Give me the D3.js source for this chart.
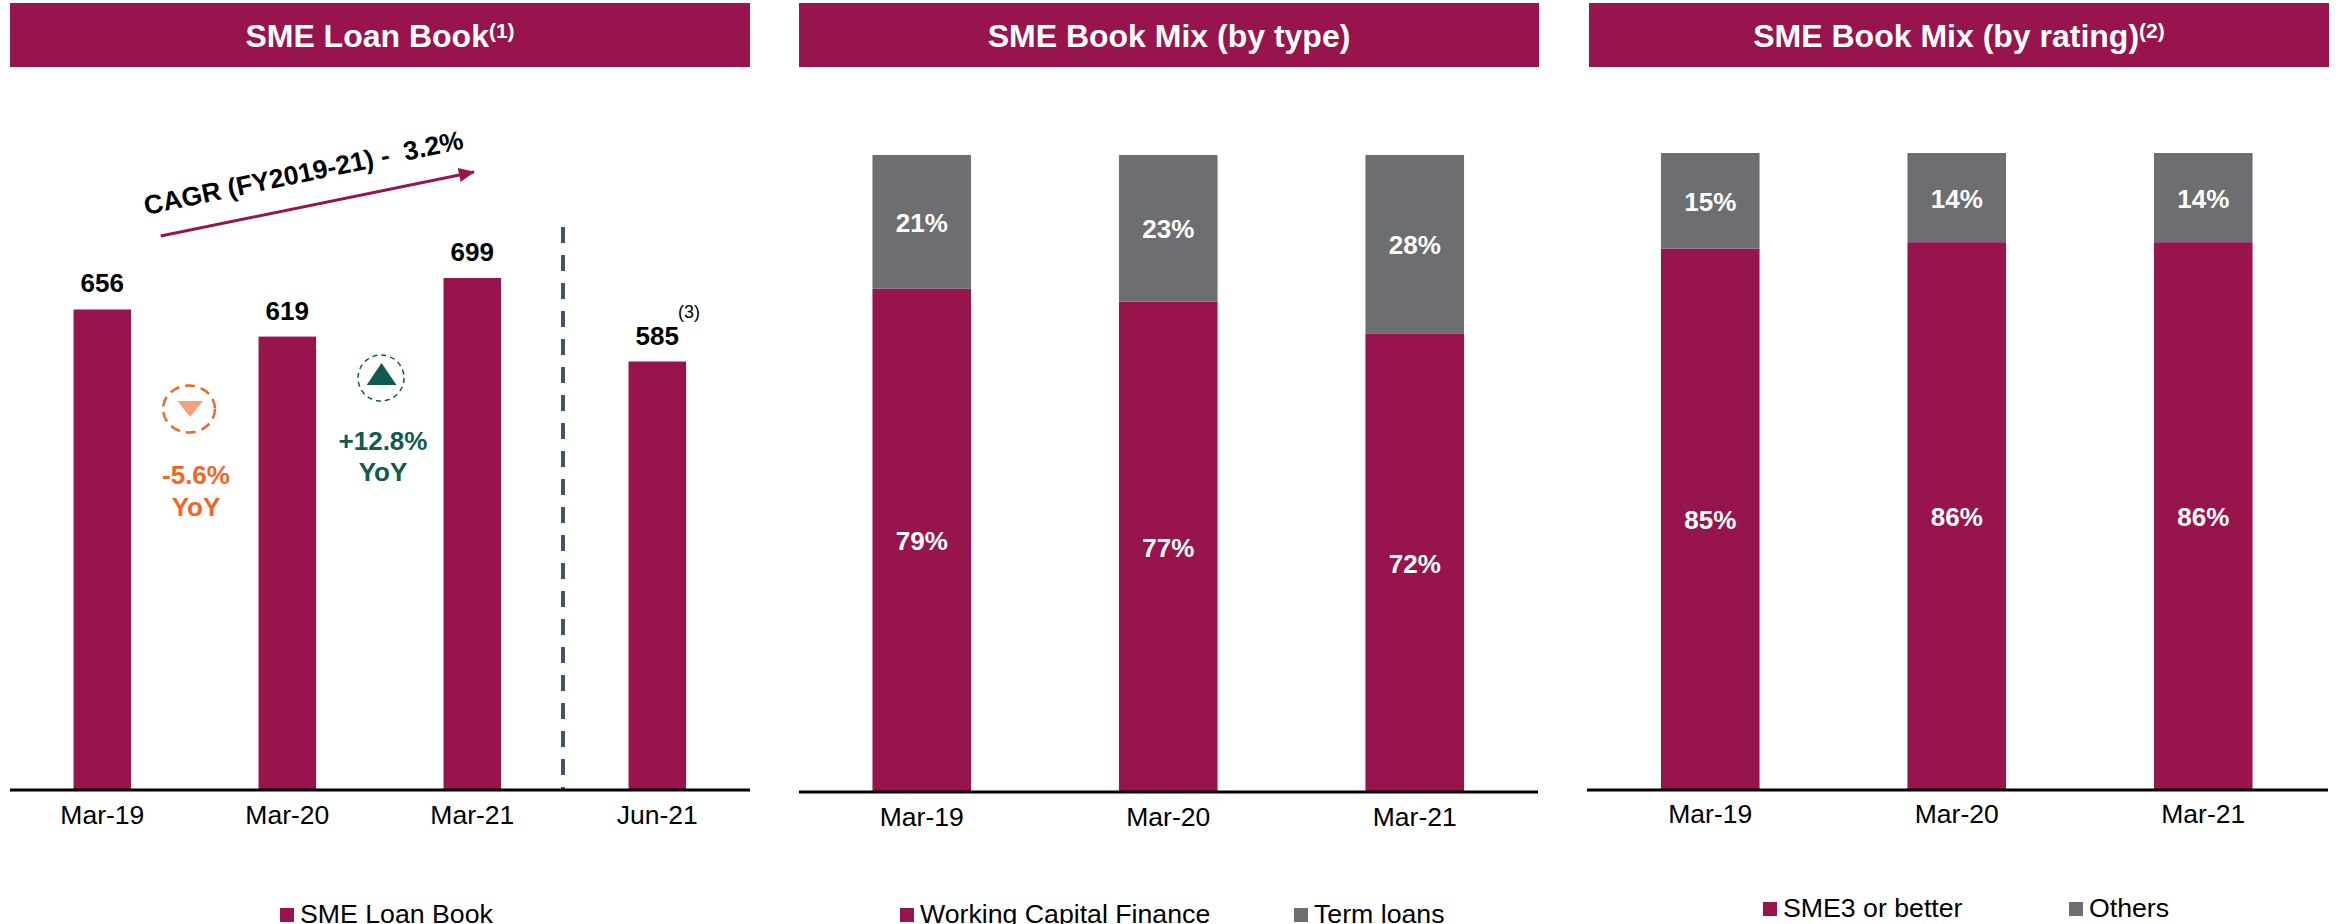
<!DOCTYPE html>
<html>
<head>
<meta charset="utf-8">
<script src="https://cdn.jsdelivr.net/npm/d3@7"></script>
<style>
html,body{margin:0;padding:0;background:#fff;overflow:hidden}
text{font-family:"Liberation Sans",Arial,sans-serif}
</style>
</head>
<body>
<svg id="c" width="2338" height="924" xmlns="http://www.w3.org/2000/svg"></svg>
<script>
const MAROON = "#97144d", GRAY = "#6d6e71", ORANGE = "#f26522", GREEN = "#125a4b";

const loanCats = ["Mar-19", "Mar-20", "Mar-21", "Jun-21"];
const loanValues = [656, 619, 699, 585];
const mixCats = ["Mar-19", "Mar-20", "Mar-21"];
const workingCapital = [79, 77, 72];
const termLoans = [21, 23, 28];
const sme3OrBetter = [85, 86, 86];
const others = [15, 14, 14];
const titles = ["SME Loan Book", "SME Book Mix (by type)", "SME Book Mix (by rating)"];
const titleNotes = ["(1)", "", "(2)"];
const cagrLabel = "CAGR (FY2019-21) -  3.2%";

const svg = d3.select("#c");

function header(x0, x1, title, note) {
  svg.append("rect").attr("x", x0).attr("y", 3).attr("width", x1 - x0).attr("height", 64).attr("fill", MAROON);
  const t = svg.append("text").attr("x", (x0 + x1) / 2).attr("y", 47).attr("text-anchor", "middle")
    .attr("fill", "#fff").attr("font-size", 32).attr("font-weight", "bold").text(title);
  if (note) t.append("tspan").attr("font-size", 21).attr("dy", -9).text(note);
}

function axis(x, yBase, lineX0, lineX1, labelY) {
  const g = svg.append("g").attr("transform", `translate(0,${yBase})`)
    .call(d3.axisBottom(x).tickSize(0));
  g.select(".domain").remove();
  g.selectAll("text").attr("dy", 0).attr("y", labelY - yBase)
    .attr("font-size", 26.5).attr("fill", "#000")
    .style("font-family", '"Liberation Sans",Arial,sans-serif');
  svg.append("line").attr("x1", lineX0).attr("x2", lineX1).attr("y1", yBase).attr("y2", yBase)
    .attr("stroke", "#000").attr("stroke-width", 3);
}

function legend(items, y) {
  items.forEach(it => {
    svg.append("rect").attr("x", it.x).attr("y", y - 15).attr("width", 14).attr("height", 14).attr("fill", it.color);
    svg.append("text").attr("x", it.x + 20).attr("y", y).attr("font-size", 26.7).attr("fill", "#000").text(it.label);
  });
}

/* Panel 1: loan book */
header(10, 750, titles[0], titleNotes[0]);
const x1 = d3.scaleBand().domain(loanCats).range([9.8, 749.8]).paddingInner(0.689).paddingOuter(0.3445);
const y1 = d3.scaleLinear().domain([0, 699]).range([790, 278]);

svg.append("g").selectAll("rect").data(loanValues).join("rect")
  .attr("x", (d, i) => x1(loanCats[i])).attr("width", x1.bandwidth())
  .attr("y", d => y1(d)).attr("height", d => y1(0) - y1(d)).attr("fill", MAROON);

svg.append("g").selectAll("text").data(loanValues).join("text")
  .attr("x", (d, i) => x1(loanCats[i]) + x1.bandwidth() / 2)
  .attr("y", d => y1(d) - 17).attr("text-anchor", "middle")
  .attr("font-size", 26).attr("font-weight", "bold").attr("fill", "#000").text(d => d);

svg.append("text").attr("x", 689).attr("y", 318).attr("text-anchor", "middle")
  .attr("font-size", 18).attr("fill", "#000").text("(3)");

svg.append("line").attr("x1", 563).attr("x2", 563).attr("y1", 227).attr("y2", 789)
  .attr("stroke", "#44546a").attr("stroke-width", 4).attr("stroke-dasharray", "16 12");

axis(x1, 790, 10, 750, 824);
legend([{x: 280, color: MAROON, label: "SME Loan Book"}], 923);

/* CAGR arrow and label */
svg.append("defs").append("marker").attr("id", "arr").attr("markerUnits", "userSpaceOnUse")
  .attr("viewBox", "0 0 18 18").attr("refX", 17).attr("refY", 8).attr("markerWidth", 18).attr("markerHeight", 16)
  .attr("orient", "auto").append("path").attr("d", "M0,0L18,8L0,16Z").attr("fill", MAROON);
svg.append("line").attr("x1", 160.7).attr("y1", 236).attr("x2", 474).attr("y2", 172)
  .attr("stroke", MAROON).attr("stroke-width", 3).attr("marker-end", "url(#arr)");
svg.append("text").attr("transform", "translate(146,215) rotate(-11.8)")
  .attr("font-size", 26.5).attr("font-weight", "bold").attr("fill", "#000")
  .attr("xml:space", "preserve").style("white-space", "pre").text(cagrLabel);

/* YoY callouts */
svg.append("ellipse").attr("cx", 189).attr("cy", 409).attr("rx", 26).attr("ry", 23.5)
  .attr("fill", "none").attr("stroke", ORANGE).attr("stroke-width", 2.5).attr("stroke-dasharray", "10 6");
svg.append("path").attr("d", "M177.5,401L203,401L190,417Z").attr("fill", "#f4a07f");
svg.append("text").attr("x", 196).attr("y", 484).attr("text-anchor", "middle").attr("font-size", 26)
  .attr("font-weight", "bold").attr("fill", ORANGE).text("-5.6%");
svg.append("text").attr("x", 196).attr("y", 516).attr("text-anchor", "middle").attr("font-size", 26)
  .attr("font-weight", "bold").attr("fill", ORANGE).text("YoY");

svg.append("circle").attr("cx", 381).attr("cy", 378).attr("r", 23)
  .attr("fill", "none").attr("stroke", GREEN).attr("stroke-width", 1.5).attr("stroke-dasharray", "5 4");
svg.append("path").attr("d", "M366.7,385L396.5,385L381.5,363Z").attr("fill", GREEN);
svg.append("text").attr("x", 383).attr("y", 450).attr("text-anchor", "middle").attr("font-size", 26)
  .attr("font-weight", "bold").attr("fill", GREEN).text("+12.8%");
svg.append("text").attr("x", 383).attr("y", 481).attr("text-anchor", "middle").attr("font-size", 26)
  .attr("font-weight", "bold").attr("fill", GREEN).text("YoY");

/* Panels 2 and 3: stacked mix */
function mixPanel(cfg) {
  header(cfg.hx0, cfg.hx1, cfg.title, cfg.note);
  const x = d3.scaleBand().domain(mixCats).range(cfg.range).paddingInner(0.6).paddingOuter(0.3);
  const y = d3.scaleLinear().domain([0, 100]).range([cfg.base, cfg.top]);
  const rows = mixCats.map((c, i) => ({cat: c, a: cfg.a[i], b: cfg.b[i]}));
  const stacked = d3.stack().keys(["a", "b"])(rows);
  const colors = {a: MAROON, b: GRAY};
  stacked.forEach(layer => {
    const g = svg.append("g");
    g.selectAll("rect").data(layer).join("rect")
      .attr("x", d => x(d.data.cat)).attr("width", x.bandwidth())
      .attr("y", d => y(d[1])).attr("height", d => y(d[0]) - y(d[1]))
      .attr("fill", colors[layer.key]);
    g.selectAll("text").data(layer).join("text")
      .attr("x", d => x(d.data.cat) + x.bandwidth() / 2)
      .attr("y", d => (y(d[0]) + y(d[1])) / 2 + 10)
      .attr("text-anchor", "middle").attr("font-size", 26).attr("font-weight", "bold").attr("fill", "#fff")
      .text(d => (d[1] - d[0]) + "%");
  });
  axis(x, cfg.base, cfg.lx0, cfg.lx1, cfg.labelY);
  legend(cfg.legend, cfg.legendY);
}

mixPanel({
  hx0: 799, hx1: 1539, title: titles[1], note: titleNotes[1],
  range: [798.5, 1538], base: 792, top: 155, a: workingCapital, b: termLoans,
  lx0: 799, lx1: 1538, labelY: 826, legendY: 923,
  legend: [{x: 900, color: MAROON, label: "Working Capital Finance"}, {x: 1294, color: GRAY, label: "Term loans"}]
});
mixPanel({
  hx0: 1589, hx1: 2329, title: titles[2], note: titleNotes[2],
  range: [1587, 2326.5], base: 790, top: 153, a: sme3OrBetter, b: others,
  lx0: 1587, lx1: 2328, labelY: 823, legendY: 917,
  legend: [{x: 1763, color: MAROON, label: "SME3 or better"}, {x: 2069, color: GRAY, label: "Others"}]
});
</script>
</body>
</html>
